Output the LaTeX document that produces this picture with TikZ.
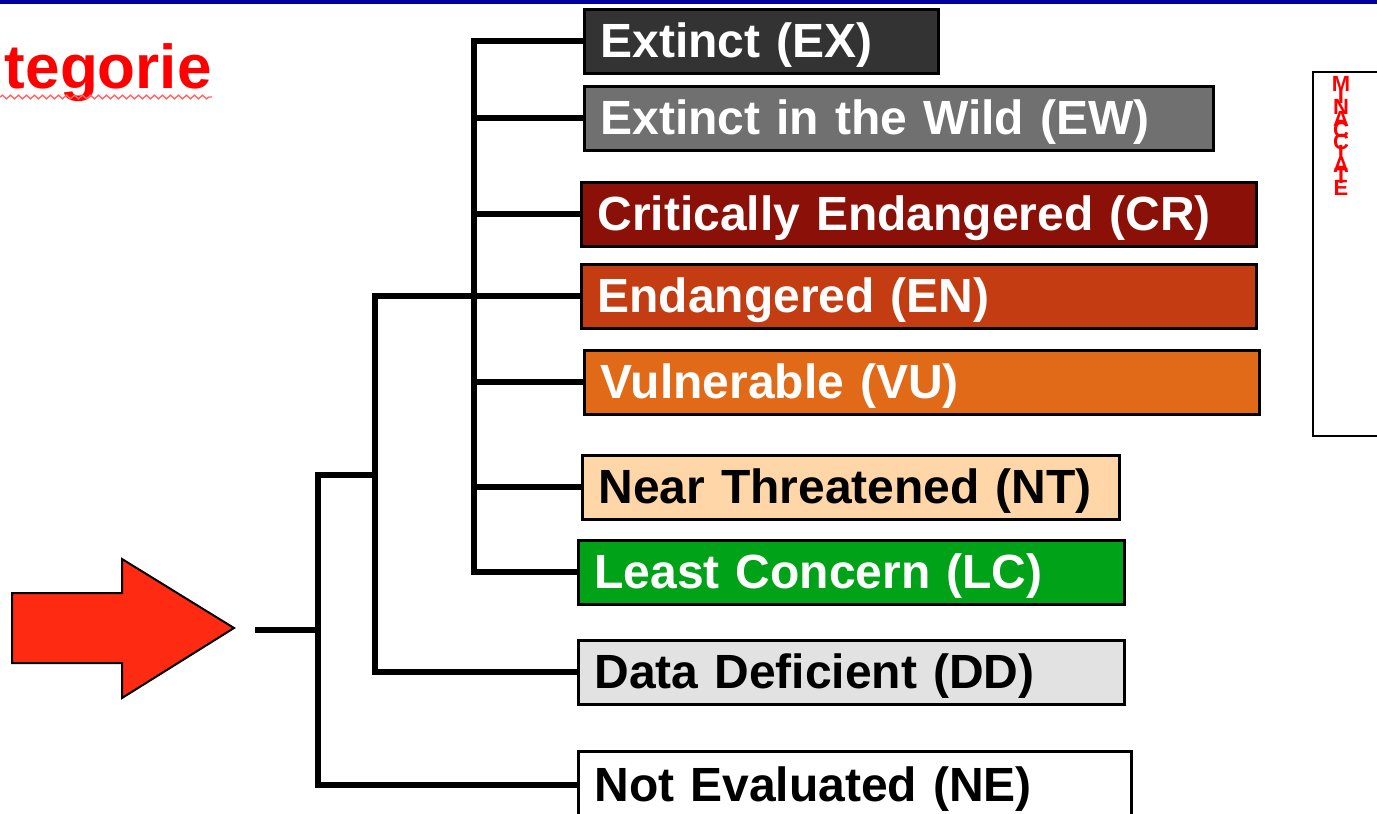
\documentclass[tikz,border=0pt]{standalone}
\usepackage{fontspec}
\setmainfont{Liberation Sans}
\usetikzlibrary{decorations.pathmorphing}
\definecolor{cEX}{HTML}{333333}
\definecolor{cEW}{HTML}{707070}
\definecolor{cCR}{HTML}{8B1108}
\definecolor{cEN}{HTML}{C43C12}
\definecolor{cVU}{HTML}{E06A17}
\definecolor{cNT}{HTML}{FFD6A8}
\definecolor{cLC}{HTML}{00A318}
\definecolor{cDD}{HTML}{E2E2E2}
\definecolor{barblue}{HTML}{0000A0}
\definecolor{arrowred}{HTML}{FF2A12}
\definecolor{titlered}{HTML}{FF0000}
\tikzset{
  catbox/.style={draw=black, line width=1.5pt, anchor=west, inner xsep=8pt,
    inner ysep=0pt, text height=16pt, text depth=0pt,
    minimum height=32pt, align=left, font=\fontsize{24}{26}\selectfont\bfseries},
  conn/.style={line width=2.8pt, line cap=rect, line join=miter},
}
\begin{document}
\begin{tikzpicture}[x=0.5pt,y=-0.5pt]
\useasboundingbox (0,0) rectangle (1377,814);
\fill[white] (0,0) rectangle (1377,814);
\fill[barblue] (0,0) rectangle (1377,4);
% title fragment
\node[anchor=base east, inner sep=0pt, text=titlered, font=\fontsize{31}{34}\selectfont\bfseries] (title) at (212,88) {tegorie};
\draw[titlered!60, line width=0.7pt, decorate, decoration={snake, amplitude=0.9pt, segment length=4pt}] (0,97) -- (212,97);
% right box
\draw[black, line width=1.2pt] (1313,72) rectangle (1400,436);
\node[anchor=north, inner sep=0pt, text=titlered, align=center, font={\fontsize{11}{5.75}\selectfont\bfseries\lineskiplimit=-50pt\relax\lineskip=0pt\relax}] (side) at (1341,76) {M\\I\\N\\A\\C\\C\\I\\A\\T\\E};
% category boxes
\node[catbox, fill=cEX, text=white, text width=161pt] (ex) at (583,41) {Extinct (EX)};
\node[catbox, fill=cEW, text=white, text width=298.5pt] (ew) at (583,118) {Extinct in the Wild (EW)};
\node[catbox, fill=cCR, text=white, text width=321.5pt] (cr) at (580,214) {Critically Endangered (CR)};
\node[catbox, fill=cEN, text=white, text width=321.5pt] (en) at (580,296) {Endangered (EN)};
\node[catbox, fill=cVU, text=white, text width=321.5pt] (vu) at (583,382) {Vulnerable (VU)};
\node[catbox, fill=cNT, text=black, text width=252.5pt] (nt) at (581,487) {Near Threatened (NT)};
\node[catbox, fill=cLC, text=white, text width=257pt] (lc) at (577,572) {Least Concern (LC)};
\node[catbox, fill=cDD, text=black, text width=257pt] (dd) at (577,672) {Data Deficient (DD)};
\node[catbox, fill=white, text=black, text width=260.5pt, minimum height=34pt] (ne) at (577,785) {Not Evaluated (NE)};
% spine coordinates
\coordinate (a1) at (474,0);
\coordinate (a2) at (375,0);
\coordinate (a3) at (318,475);
\coordinate (root) at (258,630);
% connectors
\draw[conn] (ex.west) -- (ex.west -| a1) -- (lc.west -| a1) -- (lc.west);
\foreach \n in {ew,cr,vu,nt} \draw[conn] (\n.west -| a1) -- (\n.west);
\draw[conn] (en.west) -- (en.west -| a2) -- (dd.west -| a2) -- (dd.west);
\draw[conn] (a3 -| a2) -- (a3) -- (a3 |- ne.west) -- (ne.west);
\draw[conn] (root) -- (root -| a3);
% big arrow
\draw[fill=arrowred, line width=1pt, line join=miter] (12,593) -- (122,593) -- (122,559) -- (234,628) -- (122,698) -- (122,663) -- (12,663) -- cycle;
\end{tikzpicture}
\end{document}
